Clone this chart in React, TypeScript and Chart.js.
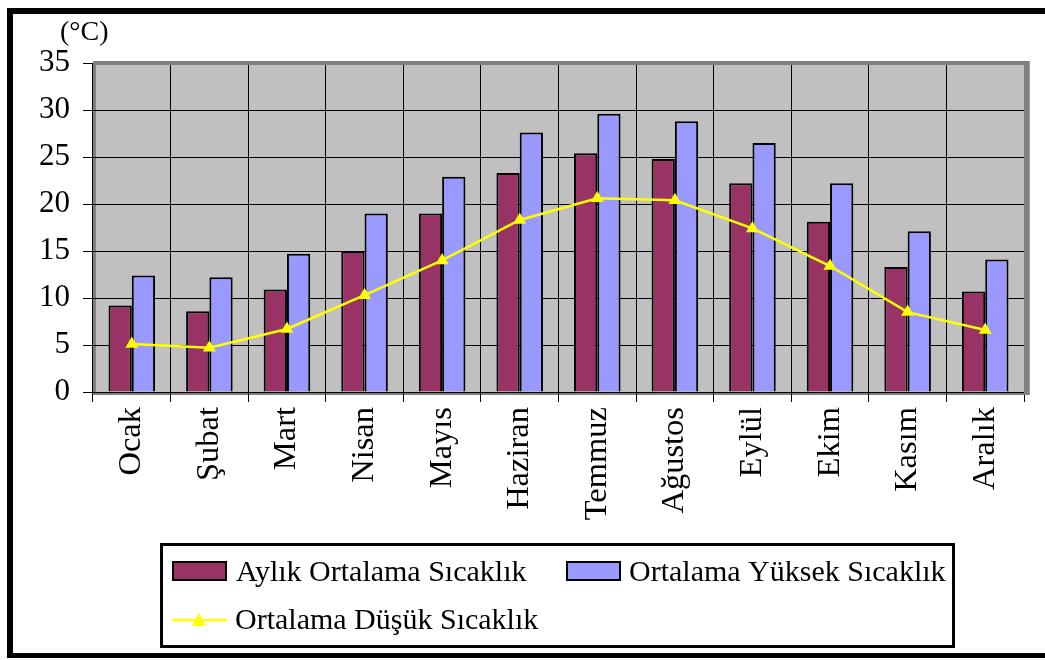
import React, { useEffect, useRef } from "react";
import { Chart, registerables } from "chart.js";

Chart.register(...registerables);

const categories = ["Ocak", "Şubat", "Mart", "Nisan", "Mayıs", "Haziran", "Temmuz", "Ağustos", "Eylül", "Ekim", "Kasım", "Aralık"];
const avgTemp = [9.2, 8.6, 10.9, 15.0, 19.0, 23.3, 25.4, 24.8, 22.2, 18.1, 13.3, 10.7];
const highTemp = [12.4, 12.2, 14.7, 19.0, 22.9, 27.6, 29.6, 28.8, 26.5, 22.2, 17.1, 14.1];
const lowTemp = [5.1, 4.7, 6.7, 10.3, 14.0, 18.3, 20.6, 20.4, 17.4, 13.4, 8.5, 6.6];
const seriesNames = ["Aylık Ortalama Sıcaklık", "Ortalama Yüksek Sıcaklık", "Ortalama Düşük Sıcaklık"];
const unitLabel = "(°C)";

const SERIF = "'Liberation Serif', 'Times New Roman', serif";

const decorPlugin = {
  id: "decor",
  beforeDraw(chart: any) {
    const { ctx, chartArea: a } = chart;
    ctx.save();
    ctx.fillStyle = "#ffffff";
    ctx.fillRect(0, 0, chart.width, chart.height);
    // outer frame
    ctx.fillStyle = "#000000";
    ctx.fillRect(7, 8, chart.width, 6);
    ctx.fillRect(7, 8, 6, 650);
    ctx.fillRect(7, 653, chart.width, 5);
    // plot background
    ctx.fillStyle = "#c0c0c0";
    ctx.fillRect(a.left, a.top, a.right - a.left, a.bottom - a.top);
    // left & bottom bands (under grid)
    ctx.fillStyle = "#808080";
    ctx.fillRect(a.left, a.top - 2, 3, a.bottom - a.top + 5);
    ctx.fillRect(a.left, a.bottom, a.right - a.left + 6, 3);
    // unit label
    ctx.fillStyle = "#000";
    ctx.font = `28px ${SERIF}`;
    ctx.textBaseline = "alphabetic";
    ctx.textAlign = "left";
    ctx.fillText(unitLabel, 60, 40);
    ctx.restore();
  },
  beforeDatasetsDraw(chart: any) {
    const { ctx, chartArea: a } = chart;
    ctx.save();
    ctx.fillStyle = "#808080";
    ctx.fillRect(a.left, a.top - 2, a.right - a.left + 6, 4);
    ctx.fillRect(a.right, a.top - 2, 6, a.bottom - a.top + 5);
    ctx.fillStyle = "#a0a0a0";
    ctx.fillRect(a.right + 5, a.top - 1, 1, a.bottom - a.top + 4);
    ctx.restore();
  },
  afterDraw(chart: any) {
    const { ctx } = chart;
    const ds = chart.data.datasets;
    ctx.save();
    // legend box
    ctx.fillStyle = "#ffffff";
    ctx.fillRect(160, 543, 795, 105);
    ctx.strokeStyle = "#000";
    ctx.lineWidth = 3;
    ctx.strokeRect(161.5, 544.5, 792, 102);
    const drawText = (t: string, x: number, y: number) => {
      ctx.fillStyle = "#000";
      ctx.font = `30px ${SERIF}`;
      ctx.textAlign = "left";
      ctx.textBaseline = "alphabetic";
      ctx.fillText(t, x, y);
    };
    const box = (d: any, x: number, y: number) => {
      ctx.fillStyle = d.backgroundColor;
      ctx.fillRect(x, y, 55, 20);
      ctx.strokeStyle = "#000";
      ctx.lineWidth = 2;
      ctx.strokeRect(x + 1, y + 1, 53, 18);
    };
    box(ds[0], 172, 561);
    drawText(ds[0].label, 236, 581);
    box(ds[1], 566, 561);
    drawText(ds[1].label, 629, 581);
    // line item
    ctx.strokeStyle = ds[2].borderColor;
    ctx.lineWidth = 2.5;
    ctx.beginPath();
    ctx.moveTo(172, 620);
    ctx.lineTo(227, 620);
    ctx.stroke();
    ctx.fillStyle = ds[2].pointBackgroundColor;
    ctx.beginPath();
    ctx.moveTo(199, 613);
    ctx.lineTo(206, 626);
    ctx.lineTo(192, 626);
    ctx.closePath();
    ctx.fill();
    drawText(ds[2].label, 235, 629);
    ctx.restore();
  },
};

export default function App() {
  const ref = useRef<HTMLCanvasElement | null>(null);
  useEffect(() => {
    if (!ref.current) return;
    const chart = new Chart(ref.current, {
      type: "bar",
      data: {
        labels: categories,
        datasets: [
          {
            type: "bar",
            label: seriesNames[0],
            data: avgTemp,
            backgroundColor: "#993366",
            borderColor: "#000000",
            borderWidth: 2,
            order: 2,
            categoryPercentage: 0.6,
            barPercentage: 1,
          },
          {
            type: "bar",
            label: seriesNames[1],
            data: highTemp,
            backgroundColor: "#9999ff",
            borderColor: "#000000",
            borderWidth: 2,
            order: 2,
            categoryPercentage: 0.6,
            barPercentage: 1,
          },
          {
            type: "line",
            label: seriesNames[2],
            data: lowTemp,
            borderColor: "#ffff00",
            backgroundColor: "#ffff00",
            pointBackgroundColor: "#ffff00",
            pointBorderColor: "#ffff00",
            pointBorderWidth: 0,
            pointStyle: "triangle",
            pointRadius: 7.5,
            borderWidth: 2.5,
            tension: 0,
            order: 0,
          } as any,
        ],
      },
      options: {
        animation: false,
        responsive: false,
        devicePixelRatio: 1,
        layout: { padding: { top: 63, right: 21, left: 0, bottom: 0 } },
        plugins: { legend: { display: false }, tooltip: { enabled: false } },
        scales: {
          x: {
            afterFit: (s: any) => {
              s.height = 268;
            },
            grid: { color: "#000", lineWidth: 1, tickLength: 10, offset: true, drawOnChartArea: true },
            border: { display: true, color: "#000", width: 1 },
            ticks: {
              color: "#000",
              font: { family: SERIF, size: 32.5 },
              minRotation: 90,
              maxRotation: 90,
              padding: 5,
              autoSkip: false,
            },
          },
          y: {
            min: 0,
            max: 35,
            afterFit: (s: any) => {
              s.width = 93;
            },
            grid: { color: "#000", lineWidth: 1, tickLength: 10 },
            border: { display: false },
            ticks: {
              stepSize: 5,
              color: "#000",
              font: { family: SERIF, size: 31 },
              padding: 13,
            },
          },
        },
      },
      plugins: [decorPlugin],
    });
    return () => chart.destroy();
  }, []);
  return (
    <div style={{ position: "fixed", left: 0, top: 0, width: 1045, height: 660, background: "#fff" }}>
      <canvas ref={ref} width={1045} height={660} style={{ display: "block" }} />
    </div>
  );
}
